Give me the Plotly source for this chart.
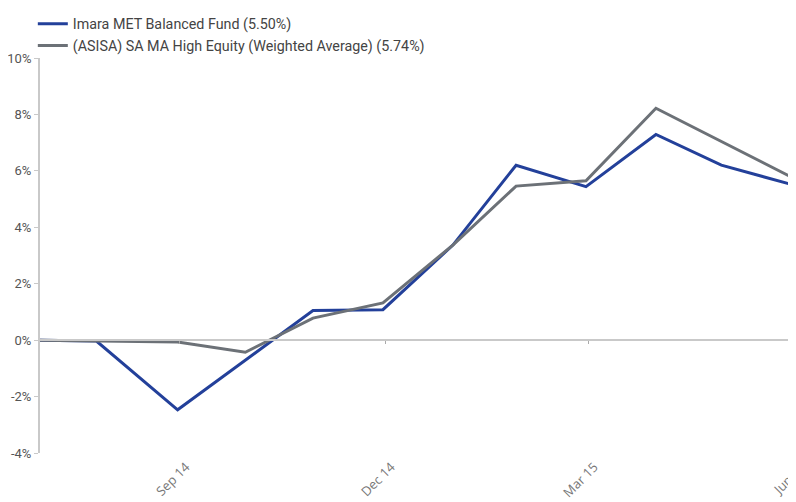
import plotly.graph_objects as go

# Data (cumulative return, %)
dates = ["2014-07-01", "2014-07-26", "2014-08-31", "2014-09-30", "2014-10-30",
         "2014-11-30", "2014-12-31", "2015-01-28", "2015-02-28", "2015-03-31",
         "2015-04-29", "2015-05-31"]
fund = [0.0, -0.03, -2.47, -0.70, 1.05, 1.08, 3.37, 6.20, 5.44, 7.29, 6.20, 5.50]
peer = [0.0, -0.02, -0.07, -0.43, 0.78, 1.32, 3.37, 5.46, 5.65, 8.22, 7.05, 5.74]
fund_name = "Imara MET Balanced Fund (5.50%)"
peer_name = "(ASISA) SA MA High Equity (Weighted Average) (5.74%)"

tick_dates = ["2014-09-01", "2014-12-01", "2015-03-01", "2015-06-01"]
tick_text = ["Sep 14", "Dec 14", "Mar 15", "Jun 15"]
y_ticks = [-4, -2, 0, 2, 4, 6, 8, 10]
y_text = [f"{v}%" for v in y_ticks]

x_range = ["2014-07-01", "2015-06-01 02:00"]
y_range = [-4, 10]

BLUE = "#23409a"
GREY = "#6c7177"
AXIS = "#c9c9c9"

fig = go.Figure()
fig.add_trace(go.Scatter(x=dates, y=fund, mode="lines", name=fund_name,
                         legendgroup="a",
                         line=dict(color=BLUE, width=3)))
fig.add_trace(go.Scatter(x=dates, y=peer, mode="lines", name=peer_name,
                         legendgroup="b",
                         line=dict(color=GREY, width=3)))
# helper trace so xaxis2 (the axis line drawn at 0%) renders
fig.add_trace(go.Scatter(x=dates, y=fund, xaxis="x2", mode="lines",
                         line=dict(width=0), hoverinfo="skip", showlegend=False,
                         opacity=0))

fig.update_layout(
    width=788, height=494,
    margin=dict(l=32, r=0, t=50, b=49, autoexpand=False),
    paper_bgcolor="white", plot_bgcolor="white",
    font=dict(family="Roboto", size=12, color="#555"),
    showlegend=True,
    legend=dict(xref="container", yref="container", x=0.0315, y=1.017,
                xanchor="left", yanchor="top",
                traceorder="grouped", tracegroupgap=0,
                font=dict(family="Roboto", size=14.3, color="#444"),
                bgcolor="rgba(0,0,0,0)"),
    xaxis=dict(type="date", range=x_range, tickvals=tick_dates, ticktext=tick_text,
               tickangle=-45, showgrid=False, zeroline=False, showline=False,
               ticks="", automargin=False, ticklabelshift=6, ticklabelstandoff=3,
               ticklabeloverflow="allow",
               tickfont=dict(family="Open Sans", size=13, color="#777")),
    xaxis2=dict(type="date", range=x_range, tickvals=tick_dates, overlaying="x",
                anchor="free", position=4 / 14, showticklabels=False,
                ticks="outside", ticklen=3, tickwidth=1, tickcolor="#aaa",
                showline=True, linecolor=AXIS, linewidth=2, showgrid=False,
                zeroline=False, automargin=False),
    yaxis=dict(range=y_range, tickvals=y_ticks, ticktext=y_text, showgrid=False,
               zeroline=False, showline=True, linecolor=AXIS, linewidth=2,
               ticks="outside", ticklen=4, tickcolor=AXIS, automargin=False,
               tickfont=dict(family="Roboto", size=13, color="#555")),
)

fig.write_html("out.html")
